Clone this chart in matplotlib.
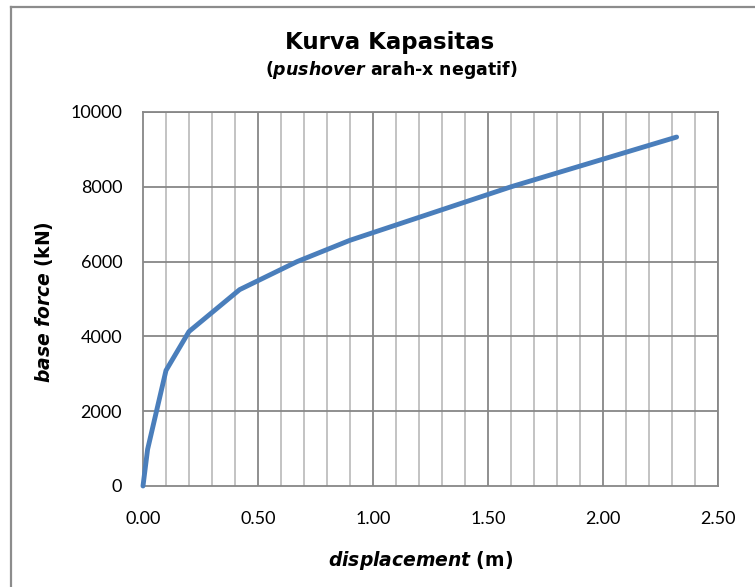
import matplotlib.pyplot as plt
from matplotlib.lines import Line2D
import numpy as np

# pushover curve (negative x direction)
disp = [0.0, 0.02, 0.10, 0.20, 0.42, 0.67, 0.90, 1.60, 2.32]
force = [0, 980, 3090, 4130, 5250, 6000, 6570, 8000, 9330]

x_ticks = [0.0, 0.5, 1.0, 1.5, 2.0, 2.5]
y_ticks = [0, 2000, 4000, 6000, 8000, 10000]

plt.rcParams['mathtext.fontset'] = 'custom'
plt.rcParams['mathtext.rm'] = 'DejaVu Sans:bold'
plt.rcParams['mathtext.bf'] = 'DejaVu Sans:bold'
plt.rcParams['mathtext.bfit'] = 'DejaVu Sans:italic:bold'

W, H = 755, 587
fig = plt.figure(figsize=(W / 100, H / 100), dpi=100, facecolor='white')
ax = fig.add_axes([143 / W, 1 - 486 / H, (718 - 143) / W, (486 - 112) / H])

# outer chart frame (only top/left visible in the crop)
fig.add_artist(Line2D([11 / W, 11 / W], [0, 1 - 7 / H], color='#8C8C8C', lw=1.6))
fig.add_artist(Line2D([11 / W, 1], [1 - 7 / H, 1 - 7 / H], color='#8C8C8C', lw=1.6))

ax.set_xlim(0, 2.5)
ax.set_ylim(0, 10000)

# gridlines: minor every 0.1 m, major every 0.5 m / 2000 kN
for xv in np.arange(0.1, 2.5, 0.1):
    if abs(xv / 0.5 - round(xv / 0.5)) > 1e-6:
        ax.axvline(xv, color='#BEBEBE', lw=1.3, zorder=1)
for xv in x_ticks[1:]:
    ax.axvline(xv, color='#878787', lw=1.3, zorder=1)
for yv in y_ticks[1:]:
    ax.axhline(yv, color='#878787', lw=1.3, zorder=1)

ax.plot(disp, force, color='#4A7EBB', lw=3.5, solid_capstyle='round',
        solid_joinstyle='round', zorder=3, clip_on=False)

ax.set_xticks(x_ticks)
ax.set_xticklabels([f'{v:.2f}' for v in x_ticks])
ax.set_yticks(y_ticks)
ax.set_yticklabels([str(v) for v in y_ticks])
ax.tick_params(length=0, labelsize=13)
ax.tick_params(axis='x', pad=18)
ax.tick_params(axis='y', pad=15)
for lab in ax.get_xticklabels() + ax.get_yticklabels():
    lab.set_fontfamily('Lato')

for s in ax.spines.values():
    s.set_color('#878787')
    s.set_linewidth(1.3)

# axis titles
fig.text(421 / W, 1 - 560 / H, r'$\mathbfit{displacement}\ \mathbf{(m)}$',
         ha='center', va='center', fontsize=13.5)
fig.text(44 / W, 1 - 302 / H, r'$\mathbfit{base\ force}\ \mathbf{(kN)}$',
         ha='center', va='center', fontsize=13.5, rotation=90)

# chart title
fig.text(390 / W, 1 - 43 / H, 'Kurva Kapasitas',
         ha='center', va='center', fontsize=16.5, fontweight='bold',
         family='DejaVu Sans')
fig.text(391 / W, 1 - 70 / H, r'($\mathbfit{pushover}$ arah-x negatif)',
         ha='center', va='center', fontsize=12.5, fontweight='bold',
         family='DejaVu Sans')

fig.savefig('out.png', dpi=100, facecolor='white')
